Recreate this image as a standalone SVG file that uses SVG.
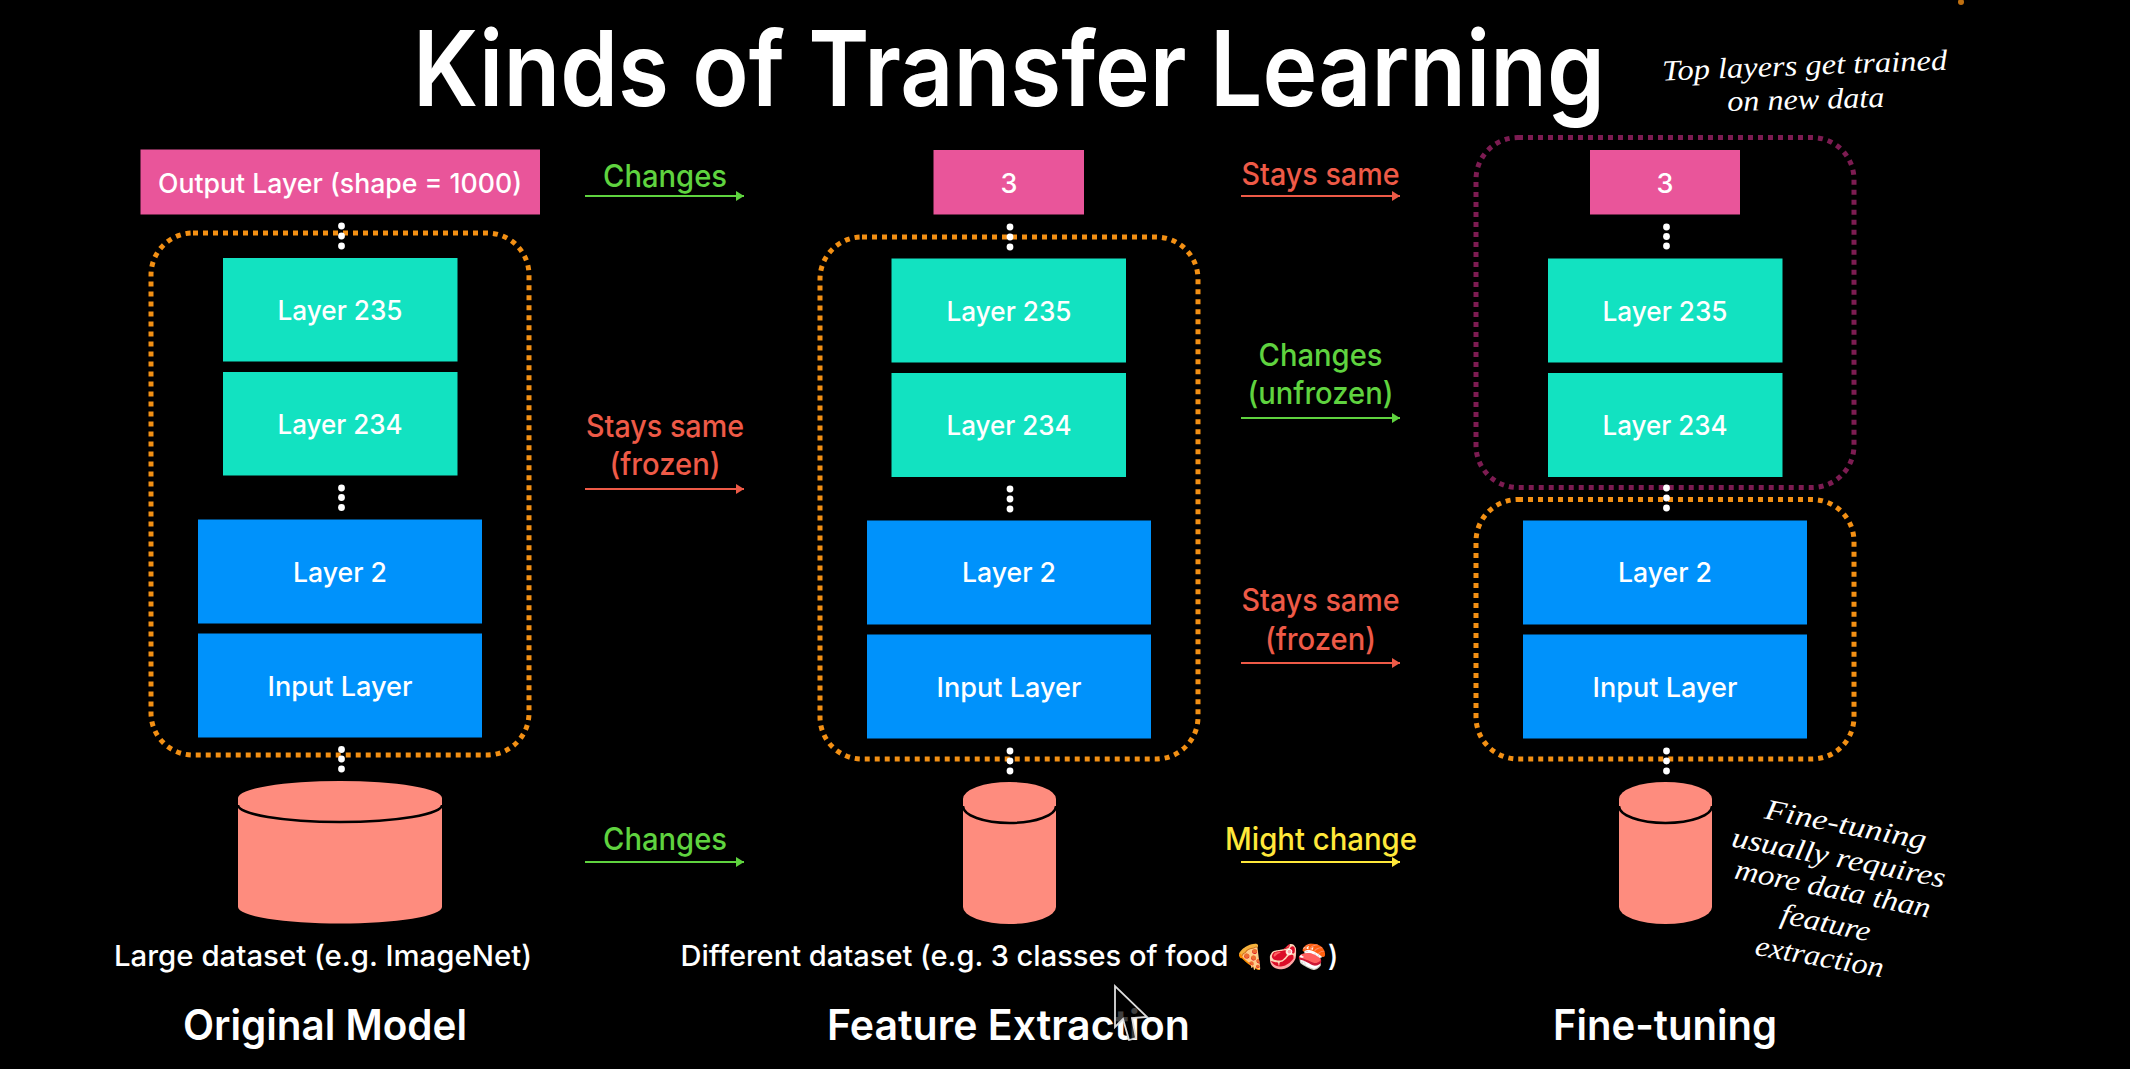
<svg xmlns="http://www.w3.org/2000/svg" width="2130" height="1069" viewBox="0 0 2130 1069">
<defs>
<marker id="ag" viewBox="0 0 10 10" refX="9" refY="5" markerUnits="userSpaceOnUse" markerWidth="10" markerHeight="10" orient="auto"><path d="M1 0L9 5L1 10z" fill="#5fd33f"/></marker>
<marker id="ar" viewBox="0 0 10 10" refX="9" refY="5" markerUnits="userSpaceOnUse" markerWidth="10" markerHeight="10" orient="auto"><path d="M1 0L9 5L1 10z" fill="#ee5a47"/></marker>
<marker id="ay" viewBox="0 0 10 10" refX="9" refY="5" markerUnits="userSpaceOnUse" markerWidth="10" markerHeight="10" orient="auto"><path d="M1 0L9 5L1 10z" fill="#ffe83a"/></marker>
</defs>
<style>
text{font-family:"Inter","Noto Sans",sans-serif;fill:#fff;text-anchor:middle;font-weight:600}
.n{font-size:27px;font-weight:500}
.h{font-size:31px;font-weight:500}
.l{font-size:29px;font-weight:500}
.g{fill:#5fd33f}.r{fill:#ee5a47}.y{fill:#ffe83a}
.s{font-family:"Liberation Serif",serif;font-style:italic;font-weight:400;font-size:29px}
.pink{fill:#e9559a}.teal{fill:#12e2c1}.blue{fill:#0092fb}.sal{fill:#fe8c7e}
.box{fill:none;stroke-width:5;stroke-dasharray:5 5}
.o{stroke:#f39014}.p{stroke:#7d1c52}
.seam{fill:none;stroke:#000;stroke-width:2.5}
.lg{stroke:#5fd33f;stroke-width:2;marker-end:url(#ag)}
.lr{stroke:#ee5a47;stroke-width:2;marker-end:url(#ar)}
.ly{stroke:#ffe83a;stroke-width:2;marker-end:url(#ay)}
circle{fill:#fff}
</style>
<rect width="2130" height="1069" fill="#000"/>
<text id="title" x="1009" y="106" font-size="104" textLength="1192" lengthAdjust="spacingAndGlyphs">Kinds of Transfer Learning</text>

<g id="connectors">
<line class="lg" x1="585" y1="196" x2="744" y2="196"/>
<line class="lr" x1="585" y1="489" x2="744" y2="489"/>
<line class="lg" x1="585" y1="862" x2="744" y2="862"/>
<line class="lr" x1="1241" y1="196" x2="1400" y2="196"/>
<line class="lg" x1="1241" y1="418" x2="1400" y2="418"/>
<line class="lr" x1="1241" y1="663" x2="1400" y2="663"/>
<line class="ly" x1="1241" y1="862" x2="1400" y2="862"/>
</g>

<g id="col1">
<g id="c1-output"><rect class="pink" x="140.5" y="149.5" width="399.5" height="65"/><text class="n" x="340" y="192.5" textLength="364" lengthAdjust="spacingAndGlyphs">Output Layer (shape = 1000)</text></g>
<g id="c1-l235"><rect class="teal" x="223" y="258" width="234.5" height="103.5"/><text class="n" x="340" y="320" textLength="125" lengthAdjust="spacingAndGlyphs">Layer 235</text></g>
<g id="c1-l234"><rect class="teal" x="223" y="372" width="234.5" height="103.5"/><text class="n" x="340" y="434" textLength="125" lengthAdjust="spacingAndGlyphs">Layer 234</text></g>
<g id="c1-l2"><rect class="blue" x="198" y="519.5" width="284" height="104"/><text class="n" x="340" y="582" textLength="94" lengthAdjust="spacingAndGlyphs">Layer 2</text></g>
<g id="c1-input"><rect class="blue" x="198" y="633.5" width="284" height="104"/><text class="n" x="340" y="696" textLength="145" lengthAdjust="spacingAndGlyphs">Input Layer</text></g>
<rect class="box o" x="151" y="233" width="378" height="522" rx="42"/>
<g><circle cx="341.5" cy="226" r="3.4"/><circle cx="341.5" cy="236" r="3.4"/><circle cx="341.5" cy="246" r="3.4"/><circle cx="341.5" cy="488" r="3.4"/><circle cx="341.5" cy="497.5" r="3.4"/><circle cx="341.5" cy="507.5" r="3.4"/><circle cx="341.5" cy="749.5" r="3.4"/><circle cx="341.5" cy="759" r="3.4"/><circle cx="341.5" cy="769" r="3.4"/></g>
<g id="c1-data"><path class="sal" d="M238 798A102 17 0 0 1 442 798V907A102 16.500 0 0 1 238 907Z"/><path class="seam" d="M238 805A102 17 0 0 0 442 805"/></g>
<text id="c1-cap" class="l" x="323" y="966" textLength="418" lengthAdjust="spacingAndGlyphs">Large dataset (e.g. ImageNet)</text>
<text id="c1-name" x="325" y="1040" font-size="42" textLength="284" lengthAdjust="spacingAndGlyphs">Original Model</text>
</g>

<g id="labels1">
<text class="h g" x="665" y="186.500" textLength="124" lengthAdjust="spacingAndGlyphs">Changes</text>
<text class="h r" x="665" y="436.500" textLength="158" lengthAdjust="spacingAndGlyphs">Stays same</text>
<text class="h r" x="665" y="475" textLength="111" lengthAdjust="spacingAndGlyphs">(frozen)</text>
<text class="h g" x="665" y="849.500" textLength="124" lengthAdjust="spacingAndGlyphs">Changes</text>
</g>

<g id="col2">
<g id="c2-output"><rect class="pink" x="933.500" y="150" width="150.500" height="64.500"/><text class="n" x="1009" y="192.500">3</text></g>
<g id="c2-l235"><rect class="teal" x="891.500" y="258.500" width="234.500" height="104"/><text class="n" x="1009" y="320.500" textLength="125" lengthAdjust="spacingAndGlyphs">Layer 235</text></g>
<g id="c2-l234"><rect class="teal" x="891.500" y="373" width="234.500" height="104"/><text class="n" x="1009" y="434.500" textLength="125" lengthAdjust="spacingAndGlyphs">Layer 234</text></g>
<g id="c2-l2"><rect class="blue" x="867" y="520.500" width="284" height="104"/><text class="n" x="1009" y="582" textLength="94" lengthAdjust="spacingAndGlyphs">Layer 2</text></g>
<g id="c2-input"><rect class="blue" x="867" y="634.500" width="284" height="104"/><text class="n" x="1009" y="696.500" textLength="145" lengthAdjust="spacingAndGlyphs">Input Layer</text></g>
<rect class="box o" x="820" y="237" width="378" height="522" rx="42"/>
<g><circle cx="1010" cy="227" r="3.4"/><circle cx="1010" cy="237" r="3.4"/><circle cx="1010" cy="247" r="3.4"/><circle cx="1010" cy="489" r="3.4"/><circle cx="1010" cy="499" r="3.4"/><circle cx="1010" cy="509" r="3.4"/><circle cx="1010" cy="751" r="3.4"/><circle cx="1010" cy="761" r="3.4"/><circle cx="1010" cy="771" r="3.4"/></g>
<g id="c2-data"><path class="sal" d="M963 799A46.500 17 0 0 1 1056 799V907A46.500 17 0 0 1 963 907Z"/><path class="seam" d="M963 806A46.500 17 0 0 0 1056 806"/></g>
<text id="c2-cap" class="l" x="954.500" y="966" textLength="548" lengthAdjust="spacingAndGlyphs">Different dataset (e.g. 3 classes of food</text>
<text id="c2-emoji" y="965" font-size="24" style="font-family:'Noto Color Emoji','Noto Sans',sans-serif"><tspan x="1250">🍕</tspan><tspan x="1283">🥩</tspan><tspan x="1312">🍣</tspan></text>
<text id="c2-paren" class="l" x="1333" y="966">)</text>
<text id="c2-name" x="1008.500" y="1040" font-size="42" textLength="363" lengthAdjust="spacingAndGlyphs">Feature Extraction</text>
</g>

<g id="labels2">
<text class="h r" x="1320.500" y="184.500" textLength="158" lengthAdjust="spacingAndGlyphs">Stays same</text>
<text class="h g" x="1320.500" y="365.500" textLength="124" lengthAdjust="spacingAndGlyphs">Changes</text>
<text class="h g" x="1320.500" y="404" textLength="146" lengthAdjust="spacingAndGlyphs">(unfrozen)</text>
<text class="h r" x="1320.500" y="610.500" textLength="158" lengthAdjust="spacingAndGlyphs">Stays same</text>
<text class="h r" x="1320.500" y="649.500" textLength="111" lengthAdjust="spacingAndGlyphs">(frozen)</text>
<text class="h y" x="1321" y="849.500" textLength="192" lengthAdjust="spacingAndGlyphs">Might change</text>
</g>

<g id="col3">
<g id="c3-output"><rect class="pink" x="1590" y="150" width="150" height="64.500"/><text class="n" x="1665" y="192.500">3</text></g>
<g id="c3-l235"><rect class="teal" x="1548" y="258.500" width="234.500" height="104"/><text class="n" x="1665" y="320.500" textLength="125" lengthAdjust="spacingAndGlyphs">Layer 235</text></g>
<g id="c3-l234"><rect class="teal" x="1548" y="373" width="234.500" height="104"/><text class="n" x="1665" y="434.500" textLength="125" lengthAdjust="spacingAndGlyphs">Layer 234</text></g>
<g id="c3-l2"><rect class="blue" x="1523" y="520.500" width="284" height="104"/><text class="n" x="1665" y="582" textLength="94" lengthAdjust="spacingAndGlyphs">Layer 2</text></g>
<g id="c3-input"><rect class="blue" x="1523" y="634.500" width="284" height="104"/><text class="n" x="1665" y="696.500" textLength="145" lengthAdjust="spacingAndGlyphs">Input Layer</text></g>
<rect class="box p" x="1476" y="137.500" width="378" height="350" rx="42"/>
<rect class="box o" x="1476" y="499.500" width="378" height="259.500" rx="42"/>
<g><circle cx="1666.500" cy="227" r="3.4"/><circle cx="1666.500" cy="236.500" r="3.4"/><circle cx="1666.500" cy="246" r="3.4"/><circle cx="1666.500" cy="488" r="3.4"/><circle cx="1666.500" cy="498" r="3.4"/><circle cx="1666.500" cy="508" r="3.4"/><circle cx="1666.500" cy="751" r="3.4"/><circle cx="1666.500" cy="761" r="3.4"/><circle cx="1666.500" cy="771" r="3.4"/></g>
<g id="c3-data"><path class="sal" d="M1619 799A46.500 17 0 0 1 1712 799V907A46.500 17 0 0 1 1619 907Z"/><path class="seam" d="M1619 806A46.500 17 0 0 0 1712 806"/></g>
<text id="c3-name" x="1665" y="1040" font-size="42" textLength="224" lengthAdjust="spacingAndGlyphs">Fine-tuning</text>
</g>

<g id="notes">
<text class="s" x="1805" y="75" transform="rotate(-2.2 1805 75)" textLength="285" lengthAdjust="spacingAndGlyphs">Top layers get trained</text>
<text class="s" x="1806" y="109" transform="rotate(-1.500 1806 109)" textLength="157" lengthAdjust="spacingAndGlyphs">on new data</text>
<text class="s" x="1844" y="834" transform="rotate(11 1844 834)" textLength="164" lengthAdjust="spacingAndGlyphs">Fine-tuning</text>
<text class="s" x="1837" y="867" transform="rotate(11 1837 867)" textLength="217" lengthAdjust="spacingAndGlyphs">usually requires</text>
<text class="s" x="1831" y="898" transform="rotate(11.500 1831 898)" textLength="199" lengthAdjust="spacingAndGlyphs">more data than</text>
<text class="s" x="1824" y="932" transform="rotate(12 1824 932)" textLength="91" lengthAdjust="spacingAndGlyphs">feature</text>
<text class="s" x="1818" y="966" transform="rotate(10 1818 966)" textLength="130" lengthAdjust="spacingAndGlyphs">extraction</text>
</g>

<circle id="speck" cx="1961" cy="2" r="3" style="fill:#c07010"/>
<path id="cursor" d="M1115 986V1027L1123 1019L1129 1040L1136 1038L1132 1018L1147 1017Z" fill="#000" fill-opacity="0.75" stroke="#ddd" stroke-width="1.800"/>
</svg>
